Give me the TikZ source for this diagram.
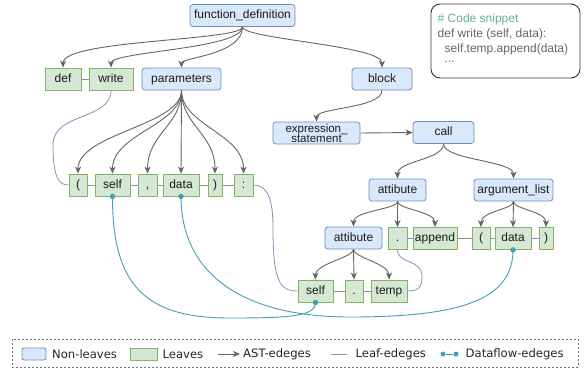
\documentclass[tikz,border=0pt]{standalone}
\usepackage{fontspec}
\setmainfont{Liberation Sans}
\newfontfamily\legfont{DejaVu Sans}
\usetikzlibrary{arrows.meta}
\definecolor{nlfill}{HTML}{DAE8FC}
\definecolor{nldraw}{HTML}{6C8EBF}
\definecolor{lffill}{HTML}{D5E8D4}
\definecolor{lfdraw}{HTML}{82B366}
\definecolor{astc}{HTML}{666666}
\definecolor{leafc}{HTML}{A680B8}
\definecolor{dfc}{HTML}{3FA2B5}
\definecolor{codegreen}{HTML}{67AB9F}
\definecolor{codegray}{HTML}{666666}
\definecolor{txt}{HTML}{1A1A1A}
\newcommand\astcurve[4]{\draw[ast] (#1.south) .. controls +(0,#3) and +(0,-#4) .. (#2.north);}
\begin{document}
\begin{tikzpicture}[x=1pt,y=-1pt,
  every node/.style={font=\fontsize{12}{13}\selectfont, text=txt, inner sep=0pt},
  nlbase/.style={draw=nldraw, fill=nlfill, rounded corners=3pt, minimum height=22pt, line width=0.8pt},
  nl/.style={nlbase, text height=8.6pt, text depth=2.6pt},
  lf/.style={draw=lfdraw, fill=lffill, minimum height=22pt, line width=0.8pt, text height=8.6pt, text depth=2.6pt},
  ast/.style={draw=astc, line width=0.9pt, -{Stealth[length=7pt,width=6pt,inset=2pt]}},
  leafe/.style={draw=leafc, line width=0.8pt},
  dfe/.style={draw=dfc, line width=0.9pt},
  dfdot/.style={fill=dfc, draw=none, circle, minimum size=5.5pt},
  code/.style={anchor=west, font=\fontsize{12}{14}\selectfont},
  legtext/.style={anchor=west, font=\legfont\fontsize{11.6}{13}\selectfont, text=black!85}]
\useasboundingbox (0,0) rectangle (585,368);
\fill[white] (0,0) rectangle (585,368);

% ---- non-leaf nodes
\node[nl, minimum width=105pt] (fd) at (242.5,15.5) {function\_definition};
\node[nl, minimum width=79pt] (params) at (181.5,79) {parameters};
\node[nl, minimum width=60pt] (block) at (382,79) {block};
\node[nlbase, minimum width=87pt, minimum height=22pt, align=center, font=\fontsize{11.5}{10}\selectfont] (exst) at (316.5,133) {expression\_\\statement};
\node[nl, minimum width=61pt] (call) at (443.5,132.5) {call};
\node[nl, minimum width=57pt] (att1) at (397.5,190) {attibute};
\node[nl, minimum width=79pt] (arg) at (513.5,190) {argument\_list};
\node[nl, minimum width=57pt] (att2) at (353.5,238) {attibute};

% ---- leaves
\node[lf, minimum width=36pt] (def) at (63,79) {def};
\node[lf, minimum width=44pt] (write) at (111,79) {write};
\node[lf, minimum width=18pt] (lp) at (78,185) {(};
\node[lf, minimum width=35pt] (self) at (112.5,185) {self};
\node[lf, minimum width=19pt] (comma) at (147.5,185) {,};
\node[lf, minimum width=36pt] (data) at (181,185) {data};
\node[lf, minimum width=14pt] (rp) at (215,185) {)};
\node[lf, minimum width=19pt] (colon) at (243.5,185) {:};
\node[lf, minimum width=19pt] (dot1) at (397.5,238.5) {.};
\node[lf, minimum width=44pt] (append) at (435,238.5) {append};
\node[lf, minimum width=18pt] (lp2) at (481,238.5) {(};
\node[lf, minimum width=36pt] (data2) at (513,238.5) {data};
\node[lf, minimum width=14pt] (rp2) at (546,238.5) {)};
\node[lf, minimum width=35pt] (self2) at (315.5,291) {self};
\node[lf, minimum width=18pt] (dot2) at (354,291) {.};
\node[lf, minimum width=36pt] (temp) at (389,291) {temp};

% ---- AST edges
\astcurve{fd}{def}{14}{28}
\astcurve{fd}{write}{22}{16}
\astcurve{fd}{params}{28}{10}
\astcurve{fd}{block}{12}{22}
\astcurve{block}{exst}{18}{14}
\draw[ast] (exst.east) -- (call.west);
\astcurve{call}{att1}{16}{18}
\astcurve{call}{arg}{16}{18}
\astcurve{att1}{att2}{8}{16}
\draw[ast] (att1.south) -- (dot1.north);
\astcurve{att1}{append}{8}{16}
\astcurve{arg}{lp2}{8}{16}
\draw[ast] (arg.south) -- (data2.north);
\astcurve{arg}{rp2}{8}{16}
\astcurve{att2}{self2}{8}{16}
\draw[ast] (att2.south) -- (dot2.north);
\astcurve{att2}{temp}{8}{16}
\astcurve{params}{lp}{35}{40}
\astcurve{params}{self}{35}{40}
\astcurve{params}{comma}{35}{40}
\draw[ast] (params.south) -- (data.north);
\astcurve{params}{rp}{35}{40}
\astcurve{params}{colon}{35}{40}

% ---- leaf edges
\draw[leafe] (def.east) -- (write.west);
\draw[leafe] (lp.east) -- (self.west) (self.east) -- (comma.west) (comma.east) -- (data.west) (data.east) -- (rp.west) (rp.east) -- (colon.west);
\draw[leafe] (dot1.east) -- (append.west) (append.east) -- (lp2.west) (lp2.east) -- (data2.west) (data2.east) -- (rp2.west);
\draw[leafe] (self2.east) -- (dot2.west) (dot2.east) -- (temp.west);
\draw[leafe] (write.south) .. controls +(0,30) and (53,112) .. (53,145) .. controls (53,180) and (60,185) .. (lp.west);
\draw[leafe] (colon.east) .. controls (268,185) and (273,200) .. (273,228) .. controls (273,282) and (280,291) .. (self2.west);
\draw[leafe] (temp.east) .. controls (418,291) and (422,288) .. (422,276) .. controls (422,259) and (397,264) .. (dot1.south);

% ---- dataflow edges
\draw[dfe] (self.south) .. controls (112,290) and (150,318) .. (230,318) .. controls (292,318) and (315.5,316) .. (self2.south);
\draw[dfe] (data.south) .. controls (181,272) and (240,317) .. (350,317) .. controls (460,317) and (513,300) .. (data2.south);
\node[dfdot] (d1) at (self.south) {};
\node[dfdot] (d2) at (self2.south) {};
\node[dfdot] (d3) at (data.south) {};
\node[dfdot] (d4) at (data2.south) {};

% ---- code snippet
\node[draw=black!80, line width=0.9pt, rounded corners=9pt, minimum width=149pt, minimum height=74pt] (snip) at (505.5,41) {};
\node[code, text=codegreen] (c1) at (437.5,19) {\# Code snippet};
\node[code, text=codegray] (c2) at (437.5,34) {def write (self, data):};
\node[code, text=codegray] (c3) at (444.5,49) {self.temp.append(data)};
\node[code, text=codegray] (c4) at (444.5,62) {...};

% ---- legend
\node[draw=black!55, dashed, dash pattern=on 2pt off 2pt, line width=0.8pt, minimum width=566pt, minimum height=28pt] (leg) at (295,353) {};
\node[nlbase, minimum width=24pt, minimum height=12pt, rounded corners=2pt] (s1) at (34,354) {};
\node[legtext] (t1) at (52,354) {Non-leaves};
\node[lf, minimum width=27pt, minimum height=12pt, text height=0pt, text depth=0pt] (s2) at (143.5,354) {};
\node[legtext] (t2) at (162.5,354) {Leaves};
\coordinate (a1) at (218,354);
\coordinate (a2) at (240,354);
\draw[ast] (a1) -- (a2);
\node[legtext] (t3) at (243,354) {AST-edeges};
\coordinate (b1) at (331,354);
\coordinate (b2) at (347,354);
\draw[leafe] (b1) -- (b2);
\node[legtext] (t4) at (355.5,354) {Leaf-edeges};
\node[dfdot, minimum size=5pt] (e1) at (443,354) {};
\node[dfdot, minimum size=5pt] (e2) at (456,354) {};
\draw[dfe] (e1) -- (e2);
\node[legtext] (t5) at (465.5,354) {Dataflow-edeges};
\end{tikzpicture}
\end{document}
